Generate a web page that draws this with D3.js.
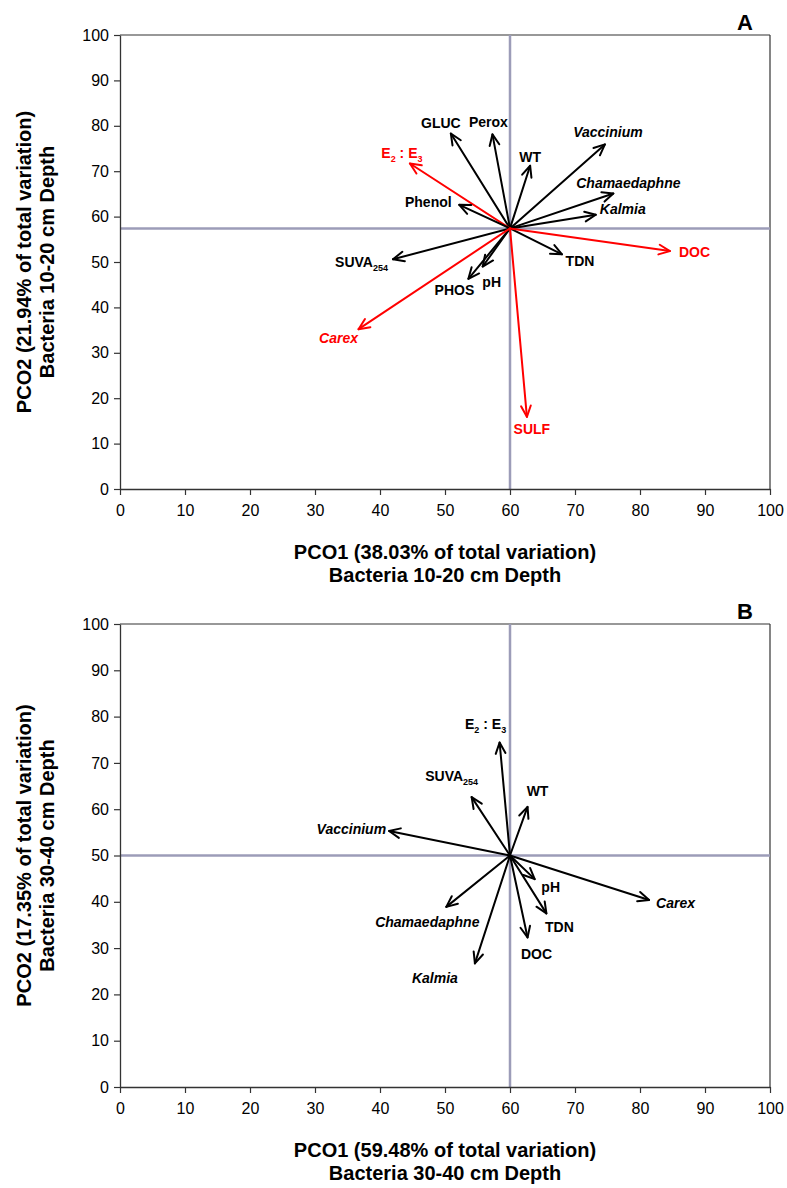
<!DOCTYPE html>
<html>
<head>
<meta charset="utf-8">
<script src="https://cdn.jsdelivr.net/npm/d3@7"></script>
<style>
  body { margin: 0; background: #fff; }
  svg { display: block; font-family: "Liberation Sans", Arial, sans-serif; }
</style>
</head>
<body>
<svg id="chart" width="787" height="1188"></svg>
<script>
// ---- Panel A: bacteria, 10-20 cm depth ----
const varsA  = ["GLUC", "Perox", "E2:E3", "WT", "Vaccinium", "Chamaedaphne", "Kalmia", "Phenol",
                "SUVA254", "PHOS", "pH", "TDN", "DOC", "Carex", "SULF"];
const pco1A  = [50.9, 57.3, 44.6, 63.1, 74.6, 75.9, 73.2, 52.2, 42.0, 53.6, 55.8, 68.0, 84.6, 36.7, 62.6];
const pco2A  = [78.3, 78.1, 71.7, 71.2, 75.9, 65.1, 60.4, 62.6, 50.6, 46.3, 49.0, 51.7, 52.4, 35.2, 15.9];
const originA = [60, 57.4];
const significantA = ["E2:E3", "DOC", "SULF", "Carex"];
const xTitleA = ["PCO1 (38.03% of total variation)", "Bacteria 10-20 cm Depth"];
const yTitleA = ["PCO2 (21.94% of total variation)", "Bacteria 10-20 cm Depth"];

// ---- Panel B: bacteria, 30-40 cm depth ----
const varsB  = ["E2:E3", "SUVA254", "WT", "Vaccinium", "pH", "TDN", "DOC", "Carex", "Chamaedaphne", "Kalmia"];
const pco1B  = [58.4, 54.1, 62.7, 41.4, 63.8, 65.6, 62.7, 81.4, 50.2, 54.6];
const pco2B  = [74.4, 62.6, 60.5, 55.3, 44.9, 37.5, 32.3, 40.4, 38.9, 26.7];
const originB = [60, 50];
const significantB = [];
const xTitleB = ["PCO1 (59.48% of total variation)", "Bacteria 30-40 cm Depth"];
const yTitleB = ["PCO2 (17.35% of total variation)", "Bacteria 30-40 cm Depth"];

// shared
const plantTaxa = ["Vaccinium", "Chamaedaphne", "Kalmia", "Carex"];
const axisTicks = [0, 10, 20, 30, 40, 50, 60, 70, 80, 90, 100];

// label placement relative to each arrow tip: [dx, dy, anchor]
const labelPosA = {
  "GLUC": [-10, -11, "middle"], "Perox": [-4, -12, "middle"], "E2:E3": [-8, -10, "middle"],
  "WT": [0, -9, "middle"], "Vaccinium": [3, -12, "middle"], "Chamaedaphne": [15, -10, "middle"],
  "Kalmia": [4, -6, "start"], "Phenol": [-31, -3, "middle"], "SUVA254": [-5, 3, "end"],
  "PHOS": [-14, 11, "middle"], "pH": [9, 15, "middle"], "TDN": [18, 7, "middle"],
  "DOC": [9, 1, "start"], "Carex": [-20, 9, "middle"], "SULF": [5, 12, "middle"]
};
const labelPosB = {
  "E2:E3": [-14, -19, "middle"], "SUVA254": [-20, -21, "middle"], "WT": [10, -16, "middle"],
  "Vaccinium": [-3, -2, "end"], "pH": [16, 8, "middle"], "TDN": [13, 14, "middle"],
  "DOC": [9, 17, "middle"], "Carex": [7, 3, "start"], "Chamaedaphne": [-19, 15, "middle"],
  "Kalmia": [-40, 15, "middle"]
};

const svg = d3.select("#chart");
const refColor = "#9c9cb8";
const axisColor = "#333";

function labelParts(name) {
  if (name === "E2:E3") return [["E"], ["2", 1], [" : "], ["E"], ["3", 1]];
  if (name === "SUVA254") return [["SUVA"], ["254", 1]];
  return [[name]];
}

function drawPanel(cfg) {
  const x = d3.scaleLinear().domain([0, 100]).range([cfg.left, cfg.right]);
  const y = d3.scaleLinear().domain([0, 100]).range([cfg.bottom, cfg.top]);
  const g = svg.append("g");

  // frame top and right
  g.append("line").attr("x1", cfg.left).attr("x2", cfg.right).attr("y1", cfg.top).attr("y2", cfg.top)
    .attr("stroke", axisColor).attr("stroke-width", 1.2);
  g.append("line").attr("x1", cfg.right).attr("x2", cfg.right).attr("y1", cfg.top).attr("y2", cfg.bottom)
    .attr("stroke", axisColor).attr("stroke-width", 1.2);

  // reference lines through the origin of the vectors
  g.append("line").attr("x1", x(cfg.origin[0])).attr("x2", x(cfg.origin[0]))
    .attr("y1", y(0)).attr("y2", y(100)).attr("stroke", refColor).attr("stroke-width", 2.5);
  g.append("line").attr("x1", x(0)).attr("x2", x(100))
    .attr("y1", y(cfg.origin[1])).attr("y2", y(cfg.origin[1])).attr("stroke", refColor).attr("stroke-width", 2.5);

  // axes
  const ax = g.append("g").attr("transform", `translate(0,${cfg.bottom})`)
    .call(d3.axisBottom(x).tickValues(axisTicks).tickSize(6).tickSizeOuter(0).tickPadding(10));
  const ay = g.append("g").attr("transform", `translate(${cfg.left},0)`)
    .call(d3.axisLeft(y).tickValues(axisTicks).tickSize(6).tickSizeOuter(0).tickPadding(5));
  [ax, ay].forEach(a => {
    a.select(".domain").attr("stroke", axisColor).attr("stroke-width", 1.3);
    a.selectAll(".tick line").attr("stroke", axisColor).attr("stroke-width", 1.2);
    a.selectAll(".tick text").attr("font-size", 16).attr("fill", "#000")
      .attr("font-family", "'Liberation Sans', Arial, sans-serif");
  });

  // axis titles
  cfg.xTitle.forEach((t, i) => {
    g.append("text").attr("x", (cfg.left + cfg.right) / 2).attr("y", cfg.bottom + 70 + i * 23)
      .attr("text-anchor", "middle").attr("font-size", 20).attr("font-weight", "bold").text(t);
  });
  const cy = (cfg.top + cfg.bottom) / 2;
  cfg.yTitle.forEach((t, i) => {
    const tx = 31 + i * 23;
    g.append("text").attr("transform", `translate(${tx},${cy}) rotate(-90)`)
      .attr("text-anchor", "middle").attr("font-size", 20).attr("font-weight", "bold").text(t);
  });

  // panel letter
  g.append("text").attr("x", 745).attr("y", cfg.top - 5).attr("text-anchor", "middle")
    .attr("font-size", 22).attr("font-weight", "bold").text(cfg.letter);

  // vectors
  const data = cfg.vars.map((v, i) => ({ name: v, px: cfg.pco1[i], py: cfg.pco2[i] }));
  const ox = x(cfg.origin[0]), oy = y(cfg.origin[1]);
  const headLen = 12, headAng = 24 * Math.PI / 180;

  const vec = g.append("g").selectAll("g").data(data).join("g")
    .attr("stroke", d => cfg.significant.includes(d.name) ? "#ff0000" : "#000")
    .attr("fill", "none").attr("stroke-width", 2).attr("stroke-linecap", "round")
    .attr("stroke-linejoin", "round");
  vec.append("line").attr("x1", ox).attr("y1", oy)
    .attr("x2", d => x(d.px)).attr("y2", d => y(d.py));
  vec.append("path").attr("d", d => {
    const tx = x(d.px), ty = y(d.py);
    const a = Math.atan2(ty - oy, tx - ox);
    const p1 = [tx - headLen * Math.cos(a - headAng), ty - headLen * Math.sin(a - headAng)];
    const p2 = [tx - headLen * Math.cos(a + headAng), ty - headLen * Math.sin(a + headAng)];
    return `M${p1[0]},${p1[1]}L${tx},${ty}L${p2[0]},${p2[1]}`;
  });

  // vector labels
  const labels = g.append("g").selectAll("text").data(data).join("text")
    .attr("x", d => x(d.px) + cfg.labelPos[d.name][0])
    .attr("y", d => y(d.py) + cfg.labelPos[d.name][1] + 5)
    .attr("text-anchor", d => cfg.labelPos[d.name][2])
    .attr("font-size", 14).attr("font-weight", "bold")
    .attr("font-style", d => plantTaxa.includes(d.name) ? "italic" : "normal")
    .attr("fill", d => cfg.significant.includes(d.name) ? "#ff0000" : "#000");
  labels.each(function (d) {
    const t = d3.select(this);
    let shifted = false;
    labelParts(d.name).forEach(p => {
      const ts = t.append("tspan").text(p[0]);
      if (p[1]) { ts.attr("font-size", 9).attr("dy", 4); shifted = true; }
      else if (shifted) { ts.attr("dy", -4); shifted = false; }
    });
  });
}

drawPanel({
  letter: "A", left: 120, right: 770, top: 35, bottom: 489,
  vars: varsA, pco1: pco1A, pco2: pco2A, origin: originA, significant: significantA,
  labelPos: labelPosA, xTitle: xTitleA, yTitle: yTitleA
});
drawPanel({
  letter: "B", left: 120, right: 770, top: 624, bottom: 1087,
  vars: varsB, pco1: pco1B, pco2: pco2B, origin: originB, significant: significantB,
  labelPos: labelPosB, xTitle: xTitleB, yTitle: yTitleB
});
</script>
</body>
</html>
